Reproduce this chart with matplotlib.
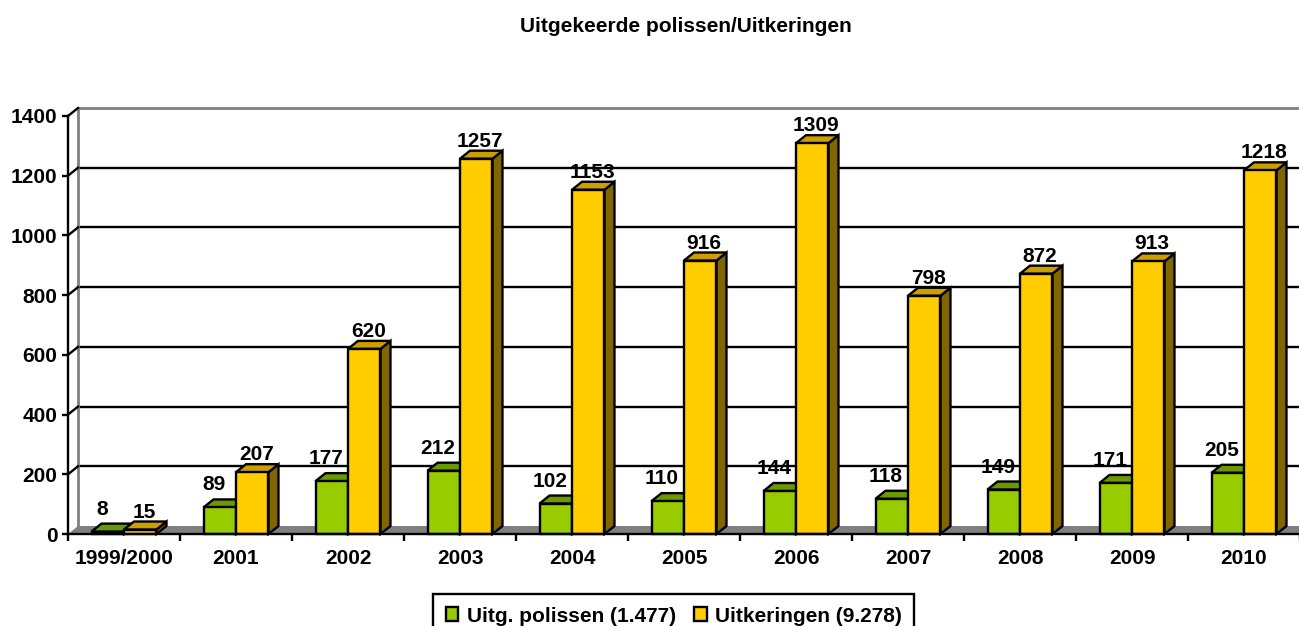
import matplotlib
matplotlib.use('Agg')
import matplotlib.pyplot as plt
from matplotlib.patches import Rectangle, Polygon, Patch

# ==============================================================================
# Data
#
years = ['1999/2000', '2001', '2002', '2003', '2004', '2005',
         '2006', '2007', '2008', '2009', '2010']
polissen = [8, 89, 177, 212, 102, 110, 144, 118, 149, 171, 205]
uitkeringen = [15, 207, 620, 1257, 1153, 916, 1309, 798, 872, 913, 1218]
series_names = ['Uitg. polissen (1.477)', 'Uitkeringen (9.278)']
title = 'Uitgekeerde polissen/Uitkeringen'

# ==============================================================================
# Constants
#
W, H = 1299, 626
DPI = 100
GREEN = ('#99CC00', '#6B9900', '#4C6600')       # front, top, side
YELLOW = ('#FFCC00', '#CC9E00', '#806600')
GREY = '#808080'
LW = 1.7
FS = 15
Y_MAX = 1400
# axes frame in pixels (front plane)
X_LEFT, X_RIGHT = 68, 1300
Y_BOTTOM, Y_TOP = 534, 116
px_x = (len(years)) / (X_RIGHT - X_LEFT)        # data units per pixel
px_y = Y_MAX / (Y_BOTTOM - Y_TOP)
DX = 10 * px_x                                  # 3d depth offset
DY = 8 * px_y
BAR_W = 0.29

plt.rcParams['font.family'] = ['Liberation Sans', 'DejaVu Sans']
plt.rcParams['font.weight'] = 'bold'
plt.rcParams['font.size'] = FS

fig = plt.figure(figsize=(W / DPI, H / DPI), dpi=DPI)
ax = fig.add_axes([X_LEFT / W, (H - Y_BOTTOM) / H,
                   (X_RIGHT - X_LEFT) / W, (Y_BOTTOM - Y_TOP) / H])
ax.set_xlim(-0.5, len(years) - 0.5)
ax.set_ylim(0, Y_MAX)
x_lo, x_hi = -0.5, len(years) - 0.5

# ==============================================================================
# Walls, floor, grid
#
ax.add_patch(Polygon([(x_lo, 0), (x_hi, 0), (x_hi + DX, DY), (x_lo + DX, DY)],
                     closed=True, facecolor=GREY, edgecolor='none',
                     clip_on=False, zorder=1))
ax.plot([x_hi, x_hi + DX], [0, DY], color='black', lw=LW,
        clip_on=False, zorder=1.5)
for v in range(200, Y_MAX + 1, 200):
    ax.plot([x_lo, x_lo + DX], [v, v + DY], color='black', lw=LW,
            clip_on=False, zorder=1.5)
    ax.plot([x_lo + DX, x_hi + DX], [v + DY, v + DY],
            color=GREY if v == Y_MAX else 'black', lw=2 if v == Y_MAX else LW,
            clip_on=False, zorder=1.2)
ax.plot([x_lo + DX, x_lo + DX], [DY, Y_MAX + DY], color=GREY, lw=2,
        clip_on=False, zorder=1.2)


# ==============================================================================
# Bars
#
def bar3d(x0, h, colors):
    front, top, side = colors
    kw = dict(edgecolor='black', lw=LW, joinstyle='miter', clip_on=False,
              zorder=3)
    ax.add_patch(Polygon([(x0 + BAR_W, 0), (x0 + BAR_W + DX, DY),
                          (x0 + BAR_W + DX, h + DY), (x0 + BAR_W, h)],
                         closed=True, facecolor=side, **kw))
    ax.add_patch(Polygon([(x0, h), (x0 + BAR_W, h), (x0 + BAR_W + DX, h + DY),
                          (x0 + DX, h + DY)],
                         closed=True, facecolor=top, **kw))
    ax.add_patch(Rectangle((x0, 0), BAR_W, h, facecolor=front, **kw))


for i, (g, y) in enumerate(zip(polissen, uitkeringen)):
    bar3d(i - BAR_W, g, GREEN)
    bar3d(i, y, YELLOW)
    ax.text(i - BAR_W / 2 - 6 * px_x, g + DY + 9 * px_y, str(g),
            ha='center', va='baseline', fontsize=FS, zorder=5)
    ax.text(i + BAR_W / 2 + 4 * px_x, y + DY + 4 * px_y, str(y),
            ha='center', va='baseline', fontsize=FS, zorder=5)

# ==============================================================================
# Axes
#
for side in ['top', 'right']:
    ax.spines[side].set_visible(False)
for side in ['left', 'bottom']:
    ax.spines[side].set_linewidth(LW)
    ax.spines[side].set_zorder(4)
ax.set_yticks(range(0, Y_MAX + 1, 200))
ax.tick_params(axis='y', length=4.5, width=LW, pad=3, labelsize=FS)
ax.set_xticks(range(len(years)))
ax.set_xticklabels(years)
ax.set_xticks([k + 0.5 for k in range(-1, len(years))], minor=True)
ax.tick_params(axis='x', which='major', length=0, pad=11, labelsize=FS)
ax.tick_params(axis='x', which='minor', length=5, width=LW)
ax.set_facecolor('none')

fig.text(685.5 / W, 1 - 32.5 / H, title, ha='center', va='baseline',
         fontsize=FS)

# ==============================================================================
# Legend
#
handles = [Patch(facecolor=GREEN[0], edgecolor='black', lw=LW),
           Patch(facecolor=YELLOW[0], edgecolor='black', lw=LW)]
leg = fig.legend(handles, series_names, loc='upper left', ncol=2,
                 bbox_to_anchor=(433 / W, 1 - 594 / H),
                 bbox_transform=fig.transFigure, borderaxespad=0,
                 fancybox=False, edgecolor='black', framealpha=1,
                 handlelength=0.62, handleheight=0.62, handletextpad=0.4,
                 columnspacing=0.85, borderpad=0.6, fontsize=FS)
leg.get_frame().set_linewidth(LW)

fig.savefig('out.png', dpi=DPI)
